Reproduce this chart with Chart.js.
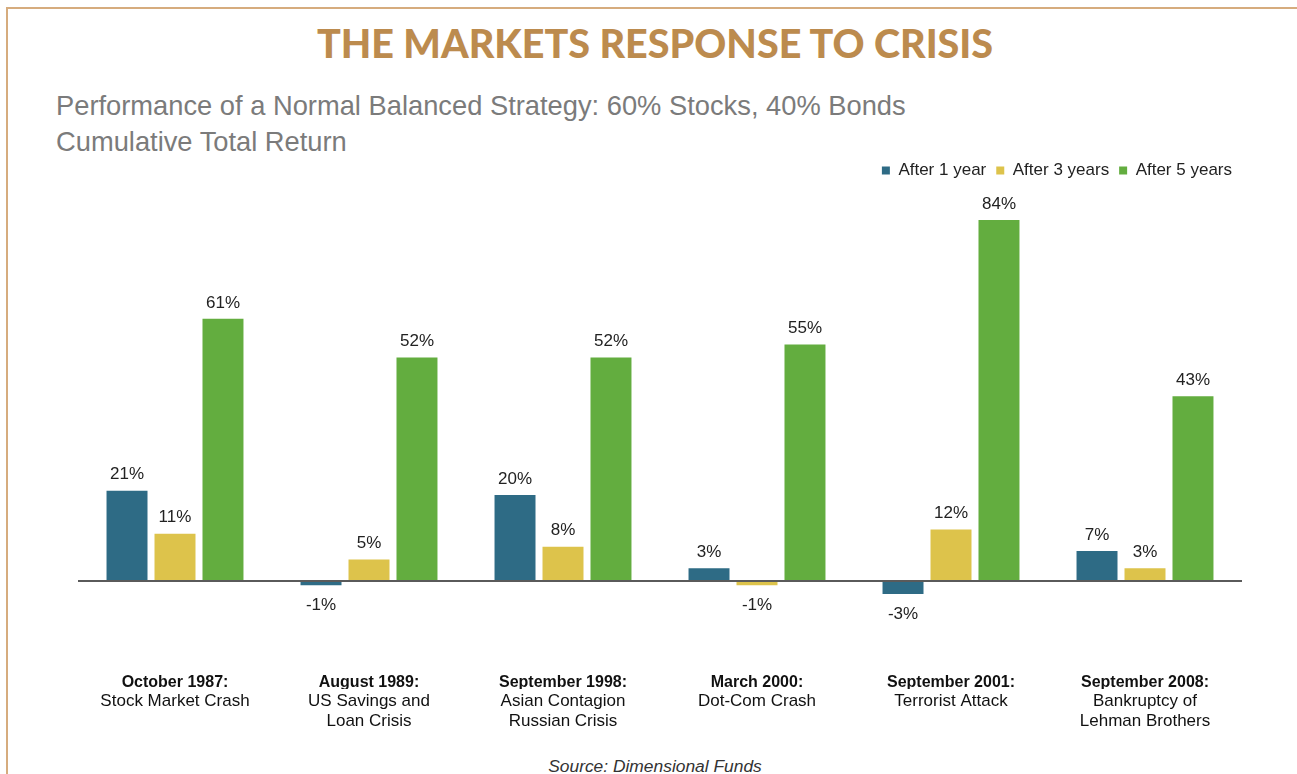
<!DOCTYPE html>
<html>
<head>
<meta charset="utf-8">
<script src="https://cdn.jsdelivr.net/npm/chart.js@4/dist/chart.umd.min.js"></script>
<style>
  html, body { margin: 0; padding: 0; background: #fff; }
  body { width: 1297px; height: 774px; position: relative; overflow: hidden; }
  #frame { position: absolute; left: 6px; top: 7px; width: 1300px; height: 780px;
           border-top: 2px solid #D6AC7E; border-left: 2px solid #D6AC7E; }
  #title { position: absolute; left: 0; width: 1310px; top: 19px; text-align: center;
           font-family: Lato, sans-serif; font-weight: 900; font-size: 39.5px; color: #BC8B4E;
           letter-spacing: 0px; line-height: 48px; }
  .sub { position: absolute; left: 56px; font-family: "Liberation Sans", Arial, sans-serif;
         font-size: 27.3px; color: #7B7B7B; line-height: 30px; white-space: nowrap; }
  #sub1 { top: 91px; }
  #sub2 { top: 127px; }
  #source { position: absolute; left: 0; width: 1310px; top: 756px; text-align: center;
            font-family: "Liberation Sans", Arial, sans-serif; font-style: italic;
            font-size: 17.4px; color: #333; line-height: 20px; }
  #wrap { position: absolute; left: 0; top: 0; width: 1297px; height: 774px; }
</style>
</head>
<body>
<div id="frame"></div>
<div id="title">THE MARKETS RESPONSE TO CRISIS</div>
<div class="sub" id="sub1">Performance of a Normal Balanced Strategy: 60% Stocks, 40% Bonds</div>
<div class="sub" id="sub2">Cumulative Total Return</div>
<div id="source">Source: Dimensional Funds</div>
<div id="wrap"><canvas id="c" width="1297" height="774"></canvas></div>
<script>
// ---- data ----
const crisisDates = ["October 1987:", "August 1989:", "September 1998:", "March 2000:", "September 2001:", "September 2008:"];
const crisisNames = [
  ["Stock Market Crash"],
  ["US Savings and", "Loan Crisis"],
  ["Asian Contagion", "Russian Crisis"],
  ["Dot-Com Crash"],
  ["Terrorist Attack"],
  ["Bankruptcy of", "Lehman Brothers"]
];
const seriesNames = ["After 1 year", "After 3 years", "After 5 years"];
const after1Year = [21, -1, 20, 3, -3, 7];
const after3Years = [11, 5, 8, -1, 12, 3];
const after5Years = [61, 52, 52, 55, 84, 43];
const seriesColors = ["#2E6B85", "#DDC34B", "#63AD3F"];

const valueLabels = {
  id: 'valueLabels',
  afterDatasetsDraw(chart) {
    const ctx = chart.ctx;
    ctx.save();
    ctx.font = '17px "Liberation Sans", Arial, sans-serif';
    ctx.fillStyle = '#222';
    ctx.textAlign = 'center';
    ctx.textBaseline = 'middle';
    chart.data.datasets.forEach((ds, i) => {
      const meta = chart.getDatasetMeta(i);
      meta.data.forEach((bar, j) => {
        const v = ds.data[j];
        const y = v >= 0 ? bar.y - 16 : bar.y + 20;
        ctx.fillText(v + '%', bar.x, y);
      });
    });
    ctx.restore();
  }
};

new Chart(document.getElementById('c'), {
  type: 'bar',
  data: {
    labels: crisisDates,
    datasets: [
      { label: seriesNames[0], data: after1Year, backgroundColor: seriesColors[0] },
      { label: seriesNames[1], data: after3Years, backgroundColor: seriesColors[1] },
      { label: seriesNames[2], data: after5Years, backgroundColor: seriesColors[2] }
    ]
  },
  options: {
    responsive: false,
    animation: false,
    events: [],
    categoryPercentage: 0.742,
    barPercentage: 0.854,
    layout: { padding: { left: 78, right: 55, top: 152, bottom: 25 } },
    plugins: {
      legend: {
        position: 'top',
        align: 'end',
        labels: {
          boxWidth: 8, boxHeight: 8, padding: 10,
          color: '#222',
          font: { family: '"Liberation Sans", Arial, sans-serif', size: 17 }
        }
      },
      title: { display: false },
      tooltip: { enabled: false }
    },
    scales: {
      x: {
        type: 'category',
        position: 'bottom',
        grid: { display: false, drawTicks: false },
        border: { display: false },
        ticks: {
          padding: 6,
          color: '#111',
          font: { family: '"Liberation Sans", Arial, sans-serif', size: 16, weight: 'bold' },
          maxRotation: 0, autoSkip: false
        },
        afterFit(s) { s.height = 22; }
      },
      x2: {
        type: 'category',
        position: 'bottom',
        offset: true,
        labels: crisisNames,
        grid: { display: false, drawTicks: false },
        border: { display: false },
        ticks: {
          padding: 2,
          color: '#111',
          font: { family: '"Liberation Sans", Arial, sans-serif', size: 17, lineHeight: 1.18 },
          maxRotation: 0, autoSkip: false
        },
        afterFit(s) { s.height = 60; }
      },
      y: {
        min: -20.0,
        max: 91.2,
        ticks: { display: false, stepSize: 10 },
        border: { display: false },
        grid: {
          drawTicks: false,
          lineWidth: 2,
          color: (c) => (c.tick && c.tick.value === 0 ? '#5A5A5A' : 'rgba(0,0,0,0)')
        }
      }
    }
  },
  plugins: [valueLabels]
});
</script>
</body>
</html>
